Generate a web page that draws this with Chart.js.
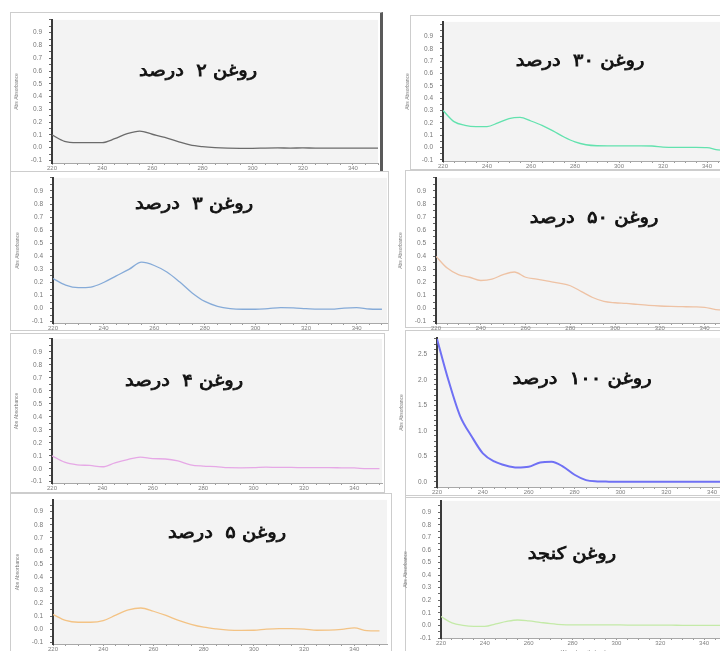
<!DOCTYPE html>
<html lang="fa">
<head>
<meta charset="UTF-8">
<title>UV spectra of oil samples</title>
<script src="https://cdn.jsdelivr.net/npm/chart.js"></script>
<style>
    html, body { margin: 0; padding: 0; width: 720px; height: 651px; overflow: hidden; background: #fff; }
    .frame { position: absolute; box-sizing: border-box; border: 1px solid #cdcdcd; }
    canvas { position: absolute; }
    .label {
        position: absolute; transform: translate(-50%, -50%) scaleX(1.15);
        font-family: "DejaVu Sans", sans-serif; font-weight: normal; font-size: 17px;
        -webkit-text-stroke: 0.8px #111;
        color: #111; direction: rtl; white-space: pre;
    }
</style>
</head>
<body>
<script>
    // wavelength grid (nm) shared by every spectrum
    const wavelengths = [220, 225, 230, 235, 240, 245, 250, 255, 260, 265, 270, 275, 280, 285,
        290, 295, 300, 305, 310, 315, 320, 325, 330, 335, 340, 345, 350];

    // absorbance
    const oil2 = [0.10, 0.05, 0.04, 0.04, 0.04, 0.07, 0.11, 0.13, 0.105, 0.08, 0.05, 0.022, 0.008, 0.0,
        -0.004, -0.005, -0.005, -0.003, -0.002, -0.003, -0.002, -0.003, -0.003, -0.004, -0.004, -0.004, -0.004];
    const oil30 = [0.30, 0.21, 0.18, 0.17, 0.17, 0.20, 0.235, 0.245, 0.215, 0.18, 0.135, 0.085, 0.045, 0.022,
        0.014, 0.013, 0.013, 0.013, 0.013, 0.012, 0.003, 0.0, 0.0, 0.0, -0.002, -0.02, -0.025];
    const oil3 = [0.23, 0.18, 0.16, 0.165, 0.20, 0.25, 0.30, 0.355, 0.33, 0.28, 0.205, 0.12, 0.055, 0.018,
        0.0, -0.005, -0.005, 0.0, 0.007, 0.005, 0.0, -0.004, -0.004, 0.004, 0.007, -0.003, -0.005];
    const oil50 = [0.40, 0.31, 0.26, 0.24, 0.215, 0.225, 0.26, 0.28, 0.24, 0.225, 0.21, 0.195, 0.175, 0.13,
        0.085, 0.055, 0.045, 0.04, 0.032, 0.025, 0.02, 0.017, 0.015, 0.013, 0.01, -0.007, -0.01];
    const oil4 = [0.10, 0.05, 0.03, 0.025, 0.015, 0.045, 0.07, 0.09, 0.078, 0.075, 0.06, 0.03, 0.02, 0.016,
        0.008, 0.007, 0.008, 0.012, 0.01, 0.01, 0.008, 0.008, 0.008, 0.007, 0.006, 0.0, 0.0];
    const oil100 = [2.80, 1.99, 1.30, 0.90, 0.56, 0.40, 0.32, 0.28, 0.295, 0.38, 0.395, 0.30, 0.14, 0.035,
        0.01, 0.005, 0.003, 0.002, 0.002, 0.002, 0.002, 0.002, 0.002, 0.002, 0.002, 0.001, 0.001];
    const oil5 = [0.115, 0.07, 0.056, 0.056, 0.068, 0.11, 0.15, 0.165, 0.14, 0.108, 0.07, 0.04, 0.018, 0.005,
        -0.004, -0.006, -0.005, 0.003, 0.007, 0.007, 0.004, -0.005, -0.004, 0.002, 0.013, -0.008, -0.01];
    const sesame = [0.07, 0.02, 0.0, -0.008, -0.008, 0.012, 0.032, 0.043, 0.036, 0.025, 0.014, 0.006, 0.004, 0.004,
        0.005, 0.005, 0.004, 0.003, 0.003, 0.002, 0.002, 0.002, 0.001, 0.001, 0.0, 0.0, 0.0];

    const sampleNames = ['روغن ۲  درصد', 'روغن ۳۰  درصد', 'روغن ۳  درصد', 'روغن ۵۰  درصد',
        'روغن ۴  درصد', 'روغن ۱۰۰  درصد', 'روغن ۵  درصد', 'روغن کنجد'];

    const xTickLabels = [220, 240, 260, 280, 300, 320, 340];
    const yTickLabels = [-0.1, 0.0, 0.1, 0.2, 0.3, 0.4, 0.5, 0.6, 0.7, 0.8, 0.9];
    const yTickLabels100 = [0.0, 0.5, 1.0, 1.5, 2.0, 2.5];

    // layout of each panel on the page
    const panels = [
        { name: sampleNames[0], values: oil2, color: '#6b6b6b', ax: 52, top: 14, bottom: 163, right: 378, xMax: 350, yMin: -0.12, yMax: 1.0, ticks: yTickLabels, minor: 0.05, frame: [10, 12, 373, 160], label: [198, 70], edge: '3px solid #5a5a5a' },
        { name: sampleNames[1], values: oil30, color: '#62e2ae', ax: 443, top: 16, bottom: 161, right: 729, xMax: 350, yMin: -0.11, yMax: 1.02, ticks: yTickLabels, minor: 0.05, frame: [410, 15, 320, 155], label: [580, 60] },
        { name: sampleNames[2], values: oil3, color: '#86abd8', ax: 53, top: 172, bottom: 323, right: 387, xMax: 352, yMin: -0.11, yMax: 1.0, ticks: yTickLabels, minor: 0.05, frame: [10, 171, 379, 160], label: [194, 203] },
        { name: sampleNames[3], values: oil50, color: '#eec2a4', ax: 436, top: 172, bottom: 323, right: 727, xMax: 350, yMin: -0.11, yMax: 1.0, ticks: yTickLabels, minor: 0.05, frame: [405, 170, 330, 158], label: [594, 217] },
        { name: sampleNames[4], values: oil4, color: '#e6a8e6', ax: 52, top: 333, bottom: 483, right: 382, xMax: 351, yMin: -0.11, yMax: 1.0, ticks: yTickLabels, minor: 0.05, frame: [10, 333, 375, 160], label: [184, 380] },
        { name: sampleNames[5], values: oil100, color: '#6f70f4', ax: 437, top: 332, bottom: 487, right: 735, xMax: 350, yMin: -0.1, yMax: 2.82, ticks: yTickLabels100, minor: 0.1, frame: [405, 330, 330, 168], label: [582, 378], lw: 2 },
        { name: sampleNames[6], values: oil5, color: '#f3c385', ax: 53, top: 494, bottom: 644, right: 387, xMax: 353, yMin: -0.11, yMax: 0.99, ticks: yTickLabels, minor: 0.05, frame: [10, 493, 382, 170], label: [227, 532] },
        { name: sampleNames[7], values: sesame, color: '#c4eaa8', ax: 441, top: 495, bottom: 638, right: 726, xMax: 350, yMin: -0.1, yMax: 0.99, ticks: yTickLabels, minor: 0.05, frame: [405, 495, 330, 170], label: [572, 553], xTitle: 'Wavelength (nm)' }
    ];

    const plotBackground = {
        id: 'plotBackground',
        beforeDraw(chart) {
            const a = chart.chartArea, ctx = chart.ctx;
            ctx.save();
            ctx.fillStyle = '#f3f3f3';
            ctx.fillRect(a.left, a.top, a.right - a.left, a.bottom - a.top);
            ctx.restore();
        }
    };

    const near = (list, v) => list.some(t => Math.abs(t - v) < 1e-6);

    panels.forEach(p => {
        const f = document.createElement('div');
        f.className = 'frame';
        f.style.left = p.frame[0] + 'px';
        f.style.top = p.frame[1] + 'px';
        f.style.width = p.frame[2] + 'px';
        f.style.height = p.frame[3] + 'px';
        if (p.edge) f.style.borderRight = p.edge;
        document.body.appendChild(f);

        const yW = 40, padTop = 5, xH = p.xTitle ? 18 : 12;
        const left = p.ax - yW, top = p.top - padTop;
        const c = document.createElement('canvas');
        c.width = p.right - left + 1;
        c.height = p.bottom - top + xH;
        c.style.left = left + 'px';
        c.style.top = top + 'px';
        document.body.appendChild(c);

        new Chart(c, {
            type: 'line',
            data: {
                datasets: [{
                    label: p.name,
                    data: wavelengths.map((w, k) => ({ x: w, y: p.values[k] })),
                    borderColor: p.color,
                    borderWidth: p.lw || 1.3,
                    pointRadius: 0,
                    cubicInterpolationMode: 'monotone',
                    fill: false
                }]
            },
            options: {
                responsive: false,
                animation: false,
                devicePixelRatio: 1,
                layout: { padding: { top: padTop, right: 1, left: 0, bottom: 0 } },
                plugins: { legend: { display: false }, tooltip: { enabled: false } },
                scales: {
                    x: {
                        type: 'linear', min: 220, max: p.xMax,
                        afterBuildTicks: s => {
                            const t = [];
                            for (let v = 220; v <= p.xMax; v += 5) t.push({ value: v });
                            s.ticks = t;
                        },
                        afterFit: s => { s.height = xH; },
                        ticks: {
                            autoSkip: false, maxRotation: 0, padding: 0,
                            font: { size: 6 }, color: '#808080',
                            callback: v => xTickLabels.includes(v) ? String(v) : ''
                        },
                        grid: { drawOnChartArea: false, tickLength: 2, color: '#9a9a9a' },
                        border: { color: '#a8a8a8' },
                        title: p.xTitle
                            ? { display: true, text: p.xTitle, font: { size: 6 }, color: '#808080', padding: 0 }
                            : { display: false }
                    },
                    y: {
                        min: p.yMin, max: p.yMax,
                        afterBuildTicks: s => {
                            const t = [];
                            const first = Math.ceil(p.yMin / p.minor - 1e-9);
                            for (let k = first; k * p.minor <= p.yMax + 1e-9; k++) {
                                t.push({ value: Math.round(k * p.minor * 1000) / 1000 });
                            }
                            s.ticks = t;
                        },
                        afterFit: s => { s.width = yW; },
                        ticks: {
                            autoSkip: false, padding: 7,
                            font: { size: 6.5 }, color: '#777',
                            callback: v => near(p.ticks, v) ? v.toFixed(1) : ''
                        },
                        grid: { drawOnChartArea: false, tickLength: 3, color: '#666' },
                        border: { color: '#3a3a3a', width: 2 },
                        title: { display: true, text: 'Abs Absorbance', font: { size: 5 }, color: '#808080', padding: { top: 2, bottom: 0 } }
                    }
                }
            },
            plugins: [plotBackground]
        });

        const l = document.createElement('div');
        l.className = 'label';
        l.textContent = p.name;
        l.style.left = p.label[0] + 'px';
        l.style.top = p.label[1] + 'px';
        document.body.appendChild(l);
    });
</script>
</body>
</html>
